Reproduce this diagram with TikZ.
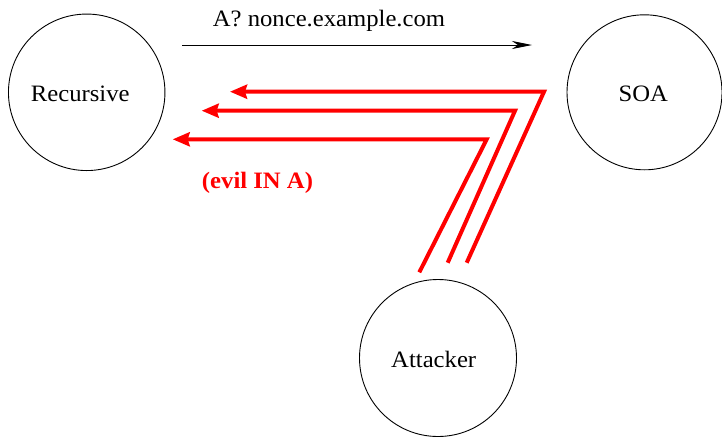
\documentclass[tikz,border=0pt]{standalone}
\usepackage{fontspec}
\setmainfont{Liberation Serif}[FakeStretch=1.05]
\usetikzlibrary{arrows.meta}
\tikzset{
  host/.style={draw=black, line width=0.9pt, circle, inner sep=0pt},
  hostname/.style={anchor=base, inner sep=0pt, font=\fontsize{23.5}{28}\selectfont},
  query/.style={draw=black, line width=0.9pt, -{Stealth[length=20pt, width=8pt, inset=6pt]}},
  spoof/.style={draw=red, line width=4pt, line join=miter, -{Stealth[length=17pt, width=14pt, inset=2pt]}},
  spooflabel/.style={anchor=base, inner sep=0pt, text=red, font=\fontsize{23.5}{28}\selectfont\bfseries}
}
\begin{document}
\begin{tikzpicture}[x=1pt, y=-1pt]
  \useasboundingbox (0,0) rectangle (722,437);

  % hosts
  \node[host, minimum size=156.5pt] (rec) at (86.7,92.3) {};
  \node[host, minimum size=155pt]   (soa) at (644.5,92.3) {};
  \node[host, minimum size=157pt]   (att) at (438,358) {};

  \node[hostname] (reclbl) at (80.3,101) {Recursive};
  \node[hostname] (soalbl) at (643.3,101.7) {SOA};
  \node[hostname] (attlbl) at (433.7,367.3) {Attacker};

  % legitimate query from the resolver
  \coordinate (qs) at (182,45);
  \coordinate (qe) at (532,45);
  \draw[query] (qs) -- (qe);
  \node[hostname] (qlbl) at (329,26.7) {A? nonce.example.com};

  % forged answers from the attacker
  \coordinate (a1) at (466.7,262.7);
  \coordinate (b1) at (544,91.7);
  \coordinate (c1) at (230,91.7);
  \coordinate (a2) at (447.7,262.7);
  \coordinate (b2) at (515,110.7);
  \coordinate (c2) at (201.7,110.7);
  \coordinate (a3) at (419.3,272.3);
  \coordinate (b3) at (486.7,139.3);
  \coordinate (c3) at (172.7,139.3);
  \draw[spoof] (a1) -- (b1) -- (c1);
  \draw[spoof] (a2) -- (b2) -- (c2);
  \draw[spoof] (a3) -- (b3) -- (c3);

  \node[spooflabel] (evil) at (257.5,188.3) {(evil IN A)};
\end{tikzpicture}
\end{document}
